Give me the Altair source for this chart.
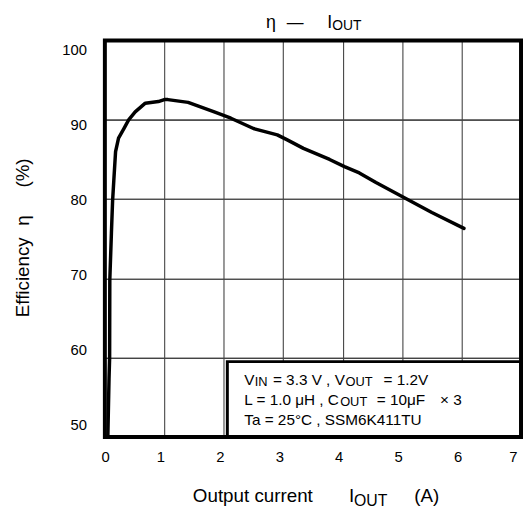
import altair as alt
import pandas as pd

# ---- data ----
iout = [0.05, 0.07, 0.08, 0.083, 0.11, 0.13, 0.15, 0.18, 0.23, 0.32, 0.40, 0.51,
        0.68, 0.90, 1.0, 1.06, 1.4, 1.84, 2.12, 2.5, 2.9, 3.06, 3.34, 3.78, 4.03,
        4.28, 4.56, 5.03, 5.5, 6.04]
eff = [50, 57.4, 60, 69.8, 75.7, 79.8, 82.3, 86.0, 87.7, 88.9, 90.0, 91.0,
       92.1, 92.3, 92.55, 92.55, 92.2, 91.0, 90.2, 88.9, 88.1, 87.5, 86.4, 85.0, 84.1,
       83.3, 82.1, 80.2, 78.3, 76.3]
x_ticks = [0, 1, 2, 3, 4, 5, 6, 7]
y_ticks = [50, 60, 70, 80, 90, 100]
box_x = [2.06, 7.0]
box_y = [50.0, 59.5]

FONT = "Liberation Sans"
W, H = 421, 401

curve_df = pd.DataFrame({"iout": iout, "eff": eff})
xscale = alt.Scale(domain=[0, 7], nice=False, zero=False)
yscale = alt.Scale(domain=[50, 100], nice=False, zero=False)

base_axis_x = alt.Axis(values=x_ticks, grid=True, gridColor="#444444", gridWidth=1.1,
                       ticks=False, domain=False, labelFont=FONT, labelFontSize=15,
                       labelColor="black", labelPadding=13, labelOffset=-4, title=None,
                       labelAngle=0)
base_axis_y = alt.Axis(values=y_ticks, grid=True, gridColor="#444444", gridWidth=1.1,
                       ticks=False, domain=False, labels=False, title=None)

curve = alt.Chart(curve_df).mark_line(color="black", strokeWidth=3.5,
                                      strokeJoin="round", strokeCap="round").encode(
    x=alt.X("iout:Q", scale=xscale, axis=base_axis_x),
    y=alt.Y("eff:Q", scale=yscale, axis=base_axis_y),
)

box = alt.Chart(pd.DataFrame({"x1": [box_x[0]], "x2": [box_x[1]],
                              "y1": [box_y[0]], "y2": [box_y[1]]})).mark_rect(
    fill="white", stroke="black", strokeWidth=3).encode(
    x=alt.X("x1:Q", scale=xscale, axis=base_axis_x),
    x2="x2:Q",
    y=alt.Y("y1:Q", scale=yscale, axis=base_axis_y),
    y2="y2:Q",
)

# thick frame around the plot area
frame = alt.Chart(alt.Data(values=[{}])).mark_rect(
    fillOpacity=0, stroke="black", strokeWidth=4).encode(
    x=alt.value(0), x2=alt.value(W), y=alt.value(0), y2=alt.value(H))

# y tick labels (evenly spaced as in the scan)
ylab = alt.Chart(pd.DataFrame({"v": y_ticks})).mark_text(
    font=FONT, fontSize=15, align="right", baseline="middle", color="black").encode(
    x=alt.value(-18),
    y=alt.Y("v:Q", scale=alt.Scale(domain=[50, 100], range=[389, 10]), axis=None),
    text=alt.Text("v:Q"),
)


def txt(s, x, y, size, align="left", angle=0, baseline="alphabetic"):
    return alt.Chart(alt.Data(values=[{}])).mark_text(
        text=s, font=FONT, fontSize=size, align=align, angle=angle,
        baseline=baseline, color="black").encode(x=alt.value(x), y=alt.value(y))


texts = [
    # title
    txt("\u03b7", 163, -13, 18),
    txt("\u2014", 184, -13, 17),
    txt("I", 225, -13, 18),
    txt("OUT", 230, -11, 14),
    # y title
    txt("Efficiency", -77, 239.5, 19, align="center", angle=270),
    txt("\u03b7", -77, 182, 19, align="center", angle=270),
    txt("(%)", -77, 134, 19, align="center", angle=270),
    # x title
    txt("Output current", 89, 467, 19),
    txt("I", 247, 467, 19),
    txt("OUT", 252, 471, 16),
    txt("(A)", 313, 467, 19),
    # box text line 1
    txt("V", 141, 348, 15.5),
    txt("IN", 151.5, 349.5, 13),
    txt("= 3.3 V , V", 170, 348, 15.5),
    txt("OUT", 243.5, 349.5, 13),
    txt("= 1.2V", 282, 348, 15.5),
    # line 2
    txt("L = 1.0 \u03bcH , C", 141, 368.7, 15.5),
    txt("OUT", 238, 370.2, 13),
    txt("= 10\u03bcF", 275, 368.7, 15.5),
    txt("\u00d7 3", 339, 368.7, 15.5),
    # line 3
    txt("Ta = 25\u00b0C , SSM6K411TU", 141, 388.7, 15.5),
]

chart = alt.layer(box, curve, frame, ylab, *texts).resolve_scale(y="independent").properties(
    width=W, height=H,
    padding={"left": 98, "top": 30, "right": 2, "bottom": 70},
    autosize="none",
).configure_view(stroke=None).configure(background="white")

chart.save("out.html", embed_options={"renderer": "svg", "actions": False})
